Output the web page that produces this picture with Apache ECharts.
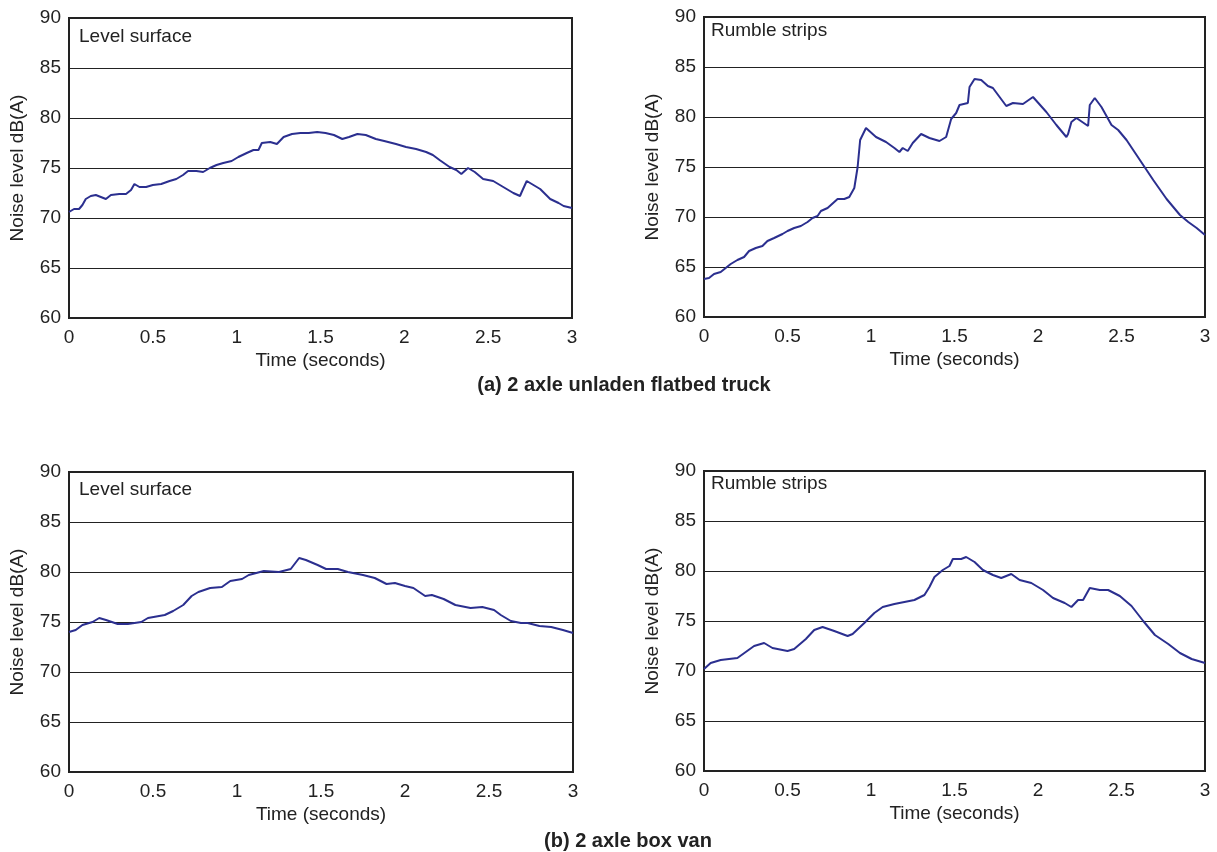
<!DOCTYPE html>
<html>
<head>
<meta charset="utf-8">
<script src="https://cdn.jsdelivr.net/npm/echarts@6/dist/echarts.min.js"></script>
<style>
  html, body { margin: 0; padding: 0; background: #fff; }
  #chart { width: 1217px; height: 852px; }
</style>
</head>
<body>
<div id="chart"></div>
<script>
// [time (s), noise level dB(A)]
var truckLevel = [[0,70.6],[0.03,70.9],[0.06,70.9],[0.08,71.3],[0.1,71.9],[0.13,72.2],[0.16,72.3],[0.19,72.1],[0.22,71.9],[0.25,72.3],[0.3,72.4],[0.34,72.4],[0.37,72.8],[0.39,73.4],[0.42,73.1],[0.46,73.1],[0.5,73.3],[0.55,73.4],[0.6,73.7],[0.64,73.9],[0.68,74.3],[0.71,74.7],[0.76,74.7],[0.8,74.6],[0.84,75.0],[0.88,75.3],[0.92,75.5],[0.97,75.7],[1.01,76.1],[1.06,76.5],[1.1,76.8],[1.13,76.8],[1.15,77.5],[1.2,77.6],[1.24,77.4],[1.28,78.1],[1.33,78.4],[1.38,78.5],[1.43,78.5],[1.48,78.6],[1.53,78.5],[1.58,78.3],[1.63,77.9],[1.67,78.1],[1.72,78.4],[1.77,78.3],[1.83,77.9],[1.88,77.7],[1.95,77.4],[2.01,77.1],[2.07,76.9],[2.13,76.6],[2.17,76.3],[2.21,75.8],[2.27,75.1],[2.31,74.8],[2.34,74.4],[2.38,75.0],[2.42,74.6],[2.47,73.9],[2.53,73.7],[2.59,73.1],[2.65,72.5],[2.69,72.2],[2.7,72.6],[2.73,73.7],[2.77,73.3],[2.81,72.9],[2.87,71.9],[2.92,71.5],[2.95,71.2],[3.0,71.0]];

var truckRumble = [[0,63.8],[0.03,63.9],[0.06,64.3],[0.1,64.5],[0.13,64.9],[0.16,65.3],[0.2,65.7],[0.24,66.0],[0.27,66.6],[0.31,66.9],[0.35,67.1],[0.38,67.6],[0.42,67.9],[0.47,68.3],[0.5,68.6],[0.54,68.9],[0.58,69.1],[0.62,69.5],[0.65,69.9],[0.68,70.1],[0.7,70.6],[0.74,70.9],[0.78,71.5],[0.8,71.8],[0.84,71.8],[0.87,72.0],[0.9,72.9],[0.92,75.0],[0.935,77.7],[0.97,78.9],[1.03,78.0],[1.09,77.5],[1.14,76.9],[1.17,76.5],[1.19,76.9],[1.22,76.6],[1.25,77.4],[1.3,78.3],[1.35,77.9],[1.41,77.6],[1.45,78.0],[1.48,79.8],[1.51,80.4],[1.53,81.2],[1.58,81.4],[1.59,83.0],[1.62,83.8],[1.66,83.7],[1.7,83.1],[1.73,82.9],[1.81,81.1],[1.85,81.4],[1.91,81.3],[1.97,82.0],[2.05,80.5],[2.11,79.2],[2.17,78.0],[2.18,78.3],[2.2,79.5],[2.23,79.9],[2.3,79.1],[2.31,81.2],[2.34,81.9],[2.38,81.0],[2.44,79.2],[2.48,78.7],[2.53,77.7],[2.61,75.7],[2.69,73.7],[2.77,71.8],[2.85,70.2],[2.9,69.5],[2.95,68.9],[3.0,68.2]];

var vanLevel = [[0,74.0],[0.04,74.2],[0.08,74.7],[0.14,75.0],[0.18,75.4],[0.22,75.2],[0.29,74.8],[0.35,74.8],[0.43,75.0],[0.47,75.4],[0.57,75.7],[0.62,76.1],[0.68,76.7],[0.73,77.6],[0.77,78.0],[0.84,78.4],[0.91,78.5],[0.96,79.1],[1.03,79.3],[1.07,79.7],[1.16,80.1],[1.25,80.0],[1.32,80.3],[1.37,81.4],[1.41,81.2],[1.48,80.7],[1.53,80.3],[1.6,80.3],[1.66,80.0],[1.75,79.7],[1.82,79.4],[1.89,78.8],[1.94,78.9],[2.0,78.6],[2.05,78.4],[2.12,77.6],[2.16,77.7],[2.23,77.3],[2.3,76.7],[2.39,76.4],[2.46,76.5],[2.53,76.2],[2.57,75.7],[2.63,75.1],[2.69,74.9],[2.73,74.9],[2.8,74.6],[2.87,74.5],[2.94,74.2],[3.0,73.9]];

var vanRumble = [[0,70.2],[0.04,70.8],[0.1,71.1],[0.2,71.3],[0.25,71.9],[0.3,72.5],[0.36,72.8],[0.41,72.3],[0.5,72.0],[0.54,72.2],[0.61,73.2],[0.66,74.1],[0.71,74.4],[0.78,74.0],[0.86,73.5],[0.89,73.7],[0.96,74.8],[1.02,75.8],[1.07,76.4],[1.14,76.7],[1.2,76.9],[1.26,77.1],[1.32,77.6],[1.35,78.4],[1.38,79.4],[1.43,80.1],[1.47,80.5],[1.49,81.2],[1.54,81.2],[1.57,81.4],[1.62,80.9],[1.67,80.1],[1.73,79.6],[1.78,79.3],[1.84,79.7],[1.89,79.1],[1.96,78.8],[2.03,78.1],[2.09,77.3],[2.16,76.8],[2.2,76.4],[2.24,77.1],[2.27,77.1],[2.31,78.3],[2.37,78.1],[2.42,78.1],[2.49,77.5],[2.56,76.5],[2.63,75.0],[2.7,73.6],[2.78,72.7],[2.85,71.8],[2.92,71.2],[3.0,70.8]];

var panelLabels = ['Level surface', 'Rumble strips', 'Level surface', 'Rumble strips'];
var groupTitles = ['(a) 2 axle unladen flatbed truck', '(b) 2 axle box van'];
var xName = 'Time (seconds)';
var yName = 'Noise level dB(A)';

var FONT = '"Liberation Sans", Arial, sans-serif';
var LINE_COLOR = '#2b2f8f';

var grids = [
    {left: 69, top: 18, width: 503, height: 300},
    {left: 704, top: 17, width: 501, height: 300},
    {left: 69, top: 472, width: 504, height: 300},
    {left: 704, top: 471, width: 501, height: 300}
];
var seriesData = [truckLevel, truckRumble, vanLevel, vanRumble];

var chart = echarts.init(document.getElementById('chart'));

var option = {
    backgroundColor: '#fff',
    animation: false,
    grid: grids.map(function (g) {
        return {
            left: g.left, top: g.top, width: g.width, height: g.height,
            show: true, borderColor: '#222', borderWidth: 2, backgroundColor: '#fff'
        };
    }),
    xAxis: grids.map(function (g, i) {
        return {
            type: 'value', gridIndex: i, min: 0, max: 3, interval: 0.5,
            name: xName, nameLocation: 'middle', nameGap: 33,
            nameTextStyle: {fontFamily: FONT, fontSize: 19, color: '#222'},
            axisLine: {show: true, lineStyle: {color: '#222', width: 2}},
            axisTick: {show: false},
            splitLine: {show: false},
            axisLabel: {fontFamily: FONT, fontSize: 19, color: '#222', margin: 10}
        };
    }),
    yAxis: grids.map(function (g, i) {
        return {
            type: 'value', gridIndex: i, min: 60, max: 90, interval: 5,
            name: yName, nameLocation: 'middle', nameGap: 42,
            nameTextStyle: {fontFamily: FONT, fontSize: 19, color: '#222'},
            axisLine: {show: true, lineStyle: {color: '#222', width: 2}},
            axisTick: {show: false},
            splitLine: {show: true, lineStyle: {color: '#222', width: 1.2}},
            axisLabel: {fontFamily: FONT, fontSize: 19, color: '#222', margin: 8}
        };
    }),
    series: seriesData.map(function (d, i) {
        return {
            type: 'line', xAxisIndex: i, yAxisIndex: i, data: d,
            showSymbol: false, symbol: 'none',
            lineStyle: {color: LINE_COLOR, width: 2},
            z: 3
        };
    }),
    graphic: [
        {type: 'text', left: 79, top: 27, style: {text: panelLabels[0], font: '19px ' + FONT, fill: '#222'}},
        {type: 'text', left: 711, top: 21, style: {text: panelLabels[1], font: '19px ' + FONT, fill: '#222'}},
        {type: 'text', left: 79, top: 480, style: {text: panelLabels[2], font: '19px ' + FONT, fill: '#222'}},
        {type: 'text', left: 711, top: 474, style: {text: panelLabels[3], font: '19px ' + FONT, fill: '#222'}},
        {type: 'text', x: 624, y: 385, style: {text: groupTitles[0], font: 'bold 20px ' + FONT, fill: '#222', textAlign: 'center', textVerticalAlign: 'middle'}},
        {type: 'text', x: 628, y: 841, style: {text: groupTitles[1], font: 'bold 20px ' + FONT, fill: '#222', textAlign: 'center', textVerticalAlign: 'middle'}}
    ]
};

chart.setOption(option);
</script>
</body>
</html>
